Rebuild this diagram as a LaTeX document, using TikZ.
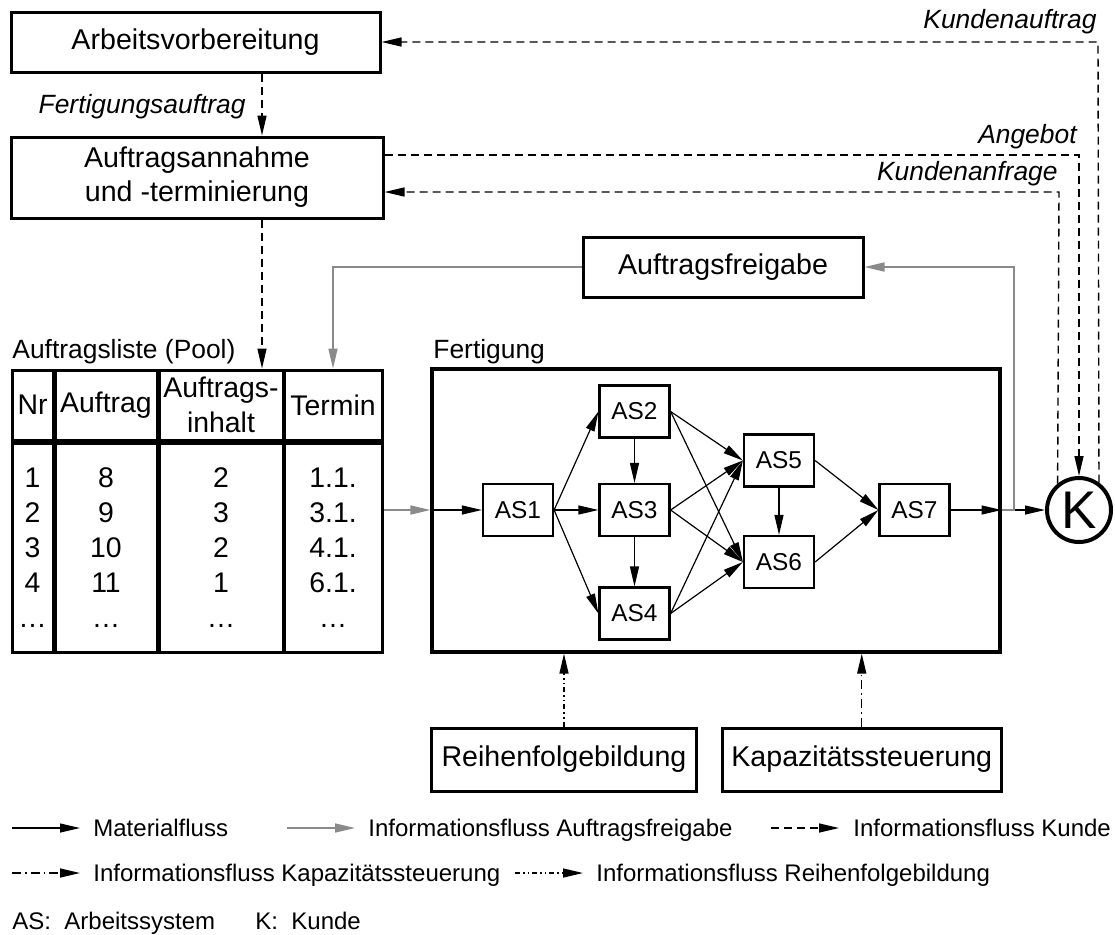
\documentclass[tikz,border=0pt]{standalone}
\usepackage{fontspec}
\setmainfont{Liberation Sans}
\usetikzlibrary{arrows.meta,positioning}
\definecolor{infograu}{HTML}{8A8A8A}
\tikzset{
  box/.style={draw, line width=1.5pt, inner sep=0pt, align=center,
              font=\fontsize{14.3}{17}\selectfont},
  asbox/.style={draw, line width=1.1pt, inner sep=0pt, minimum width=35pt,
                minimum height=26pt, font=\fontsize{12.2}{14}\selectfont},
  tabcell/.style={draw, line width=1.5pt, inner sep=0pt, align=center,
                  font=\fontsize{14.2}{17.5}\selectfont},
  tabtext/.style={inner sep=0pt, font=\fontsize{14.2}{17}\selectfont},
  flowlabel/.style={inner sep=0pt, font=\itshape\fontsize{13.2}{15}\selectfont},
  legtext/.style={inner sep=0pt, anchor=base west, font=\fontsize{12}{14}\selectfont},
  spitze/.style={-{Triangle[length=10pt,width=4.5pt]}},
  material/.style={spitze, line width=0.6pt},
  infofreigabe/.style={spitze, draw=infograu, line width=0.8pt},
  kundenfluss/.style={spitze, line width=0.7pt, dash pattern=on 4pt off 2.5pt},
  kapfluss/.style={spitze, line width=0.7pt, dash pattern=on 4.5pt off 2pt on 0.8pt off 2pt},
  reihfluss/.style={spitze, line width=0.7pt,
                    dash pattern=on 2.5pt off 1.5pt on 0.8pt off 1.5pt on 0.8pt off 1.5pt}
}

\begin{document}
\begin{tikzpicture}[x=0.5pt, y=-0.5pt]
  \fill[white] (0,0) rectangle (1115,934);
  \useasboundingbox (0,0) rectangle (1115,934);

  % Planungsstellen
  \node[box, minimum width=184.5pt, minimum height=30pt] (arbeit) at (195.5,42) {Arbeitsvorbereitung};
  \node[box, minimum width=186pt, minimum height=40.5pt] (annahme) at (197,177.5)
       {Auftragsannahme\\und -terminierung};
  \node[box, minimum width=140pt, minimum height=30pt] (freigabe) at (723,267) {Auftragsfreigabe};
  \node[box, minimum width=132.5pt, minimum height=31.5pt] (reihen) at (564,759.5) {Reihenfolgebildung};
  \node[box, minimum width=139.75pt, minimum height=31.5pt] (kapaz) at (861.75,759.5) {Kapazitätssteuerung};

  % Auftragsliste
  \node[anchor=base west, inner sep=0pt, font=\fontsize{13.2}{15}\selectfont] (lblPool) at (12,358)
       {Auftragsliste (Pool)};
  \foreach \name/\xm/\breite/\kopf/\werte in {
      nr/32.5/20.5pt/Nr/{1,2,3,4,…},
      auf/106/51pt/Auftrag/{8,9,10,11,…},
      inh/221/62pt/{Auftrags-\\inhalt}/{2,3,2,1,…},
      ter/333/49pt/Termin/{1.1.,3.1.,4.1.,6.1.,…}}
  {
    \node[tabcell, minimum width=\breite, minimum height=35pt] (h\name) at (\xm,405) {\kopf};
    \node[tabcell, minimum width=\breite, minimum height=104.5pt] (b\name) at (\xm,547.5) {};
    \foreach \w [count=\i] in \werte
      \node[tabtext, anchor=base] (\name\i) at (\xm,{452+35*\i}) {\w};
  }

  % Fertigung mit Arbeitssystemen
  \node[anchor=base west, inner sep=0pt, font=\fontsize{13.2}{15}\selectfont] (lblFertigung) at (433,358)
       {Fertigung};
  \node[draw, line width=1.6pt, minimum width=284pt, minimum height=141.5pt] (fertigung) at (716,510.5) {};
  \node[asbox] (as1) at (518,510) {AS1};
  \node[asbox] (as2) at (634.5,411.5) {AS2};
  \node[asbox] (as3) at (634.5,510) {AS3};
  \node[asbox] (as4) at (634.5,613.5) {AS4};
  \node[asbox] (as5) at (779,460.5) {AS5};
  \node[asbox] (as6) at (779,562) {AS6};
  \node[asbox] (as7) at (914.5,510) {AS7};
  \node[circle, draw, line width=2pt, minimum size=32pt, inner sep=0pt,
        font=\fontsize{26.5}{28}\selectfont] (kunde) at (1079,510) {K};

  \foreach \von/\nach in {as1/as2, as1/as3, as1/as4, as2/as5, as2/as6, as3/as5,
                          as3/as6, as4/as5, as4/as6, as5/as7, as6/as7}
    \draw[material] (\von.east) -- (\nach.west);
  \foreach \von/\nach in {as2/as3, as3/as4, as5/as6}
    \draw[material] (\von.south) -- (\nach.north);

  % Materialfluss durch die Fertigung
  \draw[infofreigabe] (bter.east |- as1) -- (fertigung.west |- as1);
  \draw[material] (fertigung.west |- as1) -- (as1.west);
  \draw[material] (as7.east) -- (fertigung.east |- as7);
  \draw[material] (fertigung.east |- kunde) -- (kunde.west);

  % Freigabe
  \coordinate (abzweig) at (1014,510);
  \draw[infofreigabe] (fertigung.east |- as7) -- (abzweig) |- (freigabe.east);
  \draw[infofreigabe] (freigabe.west) -| (hter.north);

  % Kundenfluss
  \coordinate (faX) at (262,0);
  \coordinate (auftragEck) at (1098,42);
  \coordinate (angebotEck) at (1079,155);
  \coordinate (anfrageEck) at (1059,192);
  \draw[kundenfluss] (arbeit.south -| faX) -- (annahme.north -| faX);
  \draw[kundenfluss] (annahme.south -| faX) -- (hinh.north -| faX);
  \draw[kundenfluss] (kunde.54) -- (auftragEck) -- (arbeit.east |- auftragEck);
  \draw[kundenfluss] (annahme.east |- angebotEck) -- (angebotEck) -- (kunde.north);
  \draw[kundenfluss] (kunde.129) -- (anfrageEck) -- (annahme.east |- anfrageEck);
  \node[flowlabel, anchor=base east] (lblFa) at (246,113) {Fertigungsauftrag};
  \node[flowlabel, anchor=base east] (lblKa) at (1097,28) {Kundenauftrag};
  \node[flowlabel, anchor=base east] (lblAn) at (1077,143) {Angebot};
  \node[flowlabel, anchor=base east] (lblKf) at (1058,180) {Kundenanfrage};

  % Steuerung
  \draw[reihfluss] (reihen.north) -- (reihen.north |- fertigung.south);
  \draw[kapfluss] (kapaz.north) -- (kapaz.north |- fertigung.south);

  % Legende
  \node[legtext] (lgMat) at (93,836.5) {Materialfluss};
  \node[legtext] (lgFrei) at (368,836.5) {Informationsfluss Auftragsfreigabe};
  \node[legtext] (lgKunde) at (853,836.5) {Informationsfluss Kunde};
  \node[legtext] (lgKap) at (93,881.5) {Informationsfluss Kapazitätssteuerung};
  \node[legtext] (lgReih) at (596,881.5) {Informationsfluss Reihenfolgebildung};
  \node[legtext] (lgAS) at (12,929) {AS:\ \ Arbeitssystem};
  \node[legtext] (lgK) at (255,929) {K:\ \ Kunde};
  \draw[material] ([xshift=-40.5pt,yshift=4.25pt]lgMat.base west) -- ([xshift=-6.5pt,yshift=4.25pt]lgMat.base west);
  \draw[infofreigabe] ([xshift=-40.5pt,yshift=4.25pt]lgFrei.base west) -- ([xshift=-6.5pt,yshift=4.25pt]lgFrei.base west);
  \draw[kundenfluss] ([xshift=-41pt,yshift=4.25pt]lgKunde.base west) -- ([xshift=-7pt,yshift=4.25pt]lgKunde.base west);
  \draw[kapfluss] ([xshift=-40.5pt,yshift=4.25pt]lgKap.base west) -- ([xshift=-6.5pt,yshift=4.25pt]lgKap.base west);
  \draw[reihfluss] ([xshift=-40.5pt,yshift=4.25pt]lgReih.base west) -- ([xshift=-6.5pt,yshift=4.25pt]lgReih.base west);
\end{tikzpicture}
\end{document}
